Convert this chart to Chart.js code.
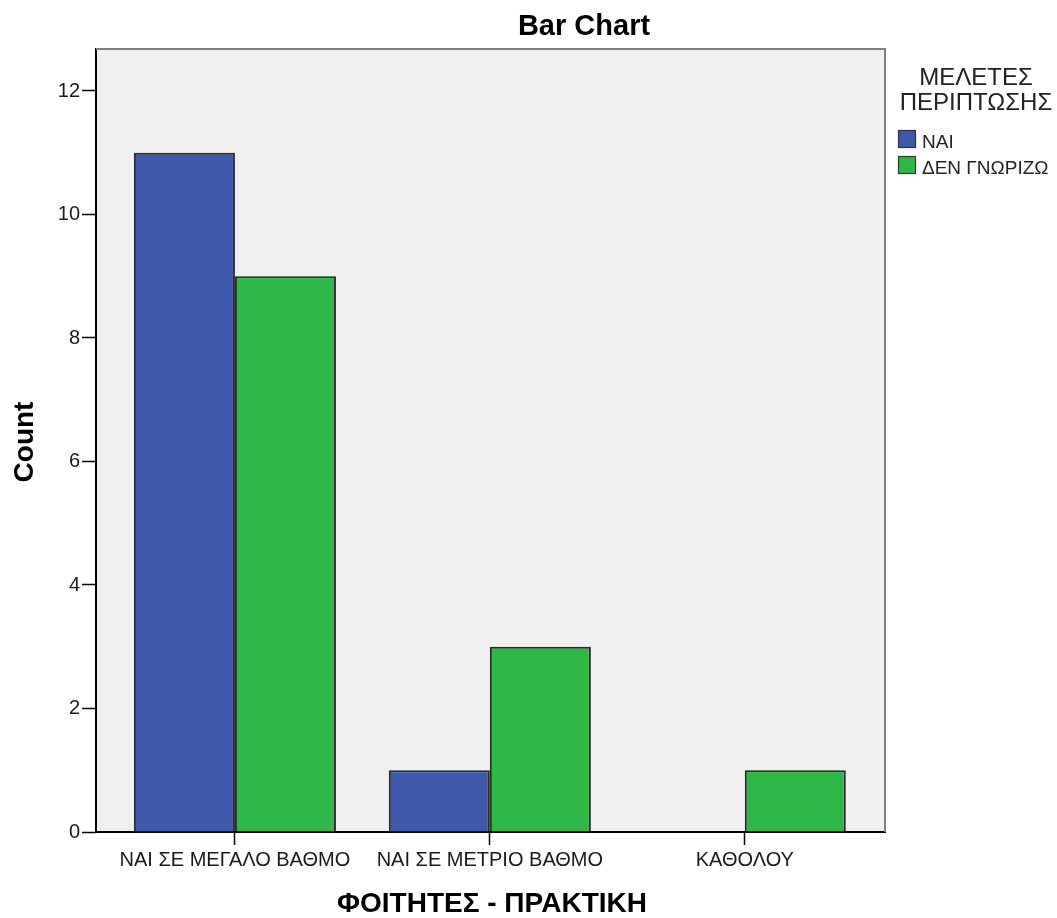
<!DOCTYPE html>
<html>
<head>
<meta charset="utf-8">
<script src="https://cdn.jsdelivr.net/npm/chart.js@4/dist/chart.umd.min.js"></script>
<style>
  html, body { margin: 0; padding: 0; background: #ffffff; }
  #wrap { width: 1057px; height: 918px; }
</style>
</head>
<body>
<div id="wrap"><canvas id="c" width="1057" height="918"></canvas></div>
<script>
const categories = ["ΝΑΙ ΣΕ ΜΕΓΑΛΟ ΒΑΘΜΟ", "ΝΑΙ ΣΕ ΜΕΤΡΙΟ ΒΑΘΜΟ", "ΚΑΘΟΛΟΥ"];
const seriesNames = ["ΝΑΙ", "ΔΕΝ ΓΝΩΡΙΖΩ"];
const valuesNai = [11, 1, 0];
const valuesDenGnorizo = [9, 3, 1];
const yTicks = [0, 2, 4, 6, 8, 10, 12];
const chartTitle = "Bar Chart";
const xTitle = "ΦΟΙΤΗΤΕΣ - ΠΡΑΚΤΙΚΗ";
const yTitle = "Count";
const legendTitle = ["ΜΕΛΕΤΕΣ", "ΠΕΡΙΠΤΩΣΗΣ"];

const colors = ["#3E58AC", "#2EB848"];
const FONT = "'Liberation Sans', Arial, sans-serif";

function toPoints(vals) { return vals.map((v, i) => ({ x: i, y: v })); }

const decor = {
  id: 'decor',
  beforeDraw(chart) {
    const { ctx, chartArea: a } = chart;
    ctx.save();
    ctx.fillStyle = '#F0F0F0';
    ctx.fillRect(a.left, a.top, a.right - a.left, a.bottom - a.top);
    ctx.restore();
  },
  afterDraw(chart) {
    const { ctx, chartArea: a } = chart;
    ctx.save();
    ctx.strokeStyle = '#808080';
    ctx.lineWidth = 2;
    ctx.beginPath();
    ctx.moveTo(a.left, a.top);
    ctx.lineTo(a.right, a.top);
    ctx.lineTo(a.right, a.bottom);
    ctx.stroke();

    ctx.fillStyle = '#000';
    ctx.textAlign = 'center';
    ctx.textBaseline = 'middle';
    ctx.font = "bold 29px " + FONT;
    ctx.fillText(chartTitle, 584, 27);
    ctx.font = "bold 28px " + FONT;
    ctx.fillText(xTitle, 492, 904);
    ctx.save();
    ctx.translate(25, 442);
    ctx.rotate(-Math.PI / 2);
    ctx.fillText(yTitle, 0, 0);
    ctx.restore();

    ctx.fillStyle = '#222';
    ctx.font = "24px " + FONT;
    legendTitle.forEach((t, i) => ctx.fillText(t, 976, 78 + i * 25));
    ctx.textAlign = 'left';
    ctx.textBaseline = 'alphabetic';
    ctx.font = "19px " + FONT;
    chart.data.datasets.forEach((ds, i) => {
      const y = 130 + i * 26;
      ctx.fillStyle = ds.backgroundColor;
      ctx.fillRect(898, y, 18, 18);
      ctx.strokeStyle = '#333';
      ctx.lineWidth = 1.2;
      ctx.strokeRect(898.5, y + 0.5, 17, 17);
      ctx.fillStyle = '#222';
      ctx.fillText(ds.label, 922, y + 18);
    });
    ctx.restore();
  }
};

new Chart(document.getElementById('c'), {
  type: 'bar',
  data: {
    datasets: [
      { label: seriesNames[0], data: toPoints(valuesNai), backgroundColor: colors[0], borderColor: '#2a2a2a', borderWidth: 2 },
      { label: seriesNames[1], data: toPoints(valuesDenGnorizo), backgroundColor: colors[1], borderColor: '#2a2a2a', borderWidth: 2 }
    ]
  },
  options: {
    responsive: false,
    animation: false,
    devicePixelRatio: 1,
    layout: { padding: { left: 0, top: 49, right: 172, bottom: 0 } },
    categoryPercentage: 0.7925,
    barPercentage: 1.0,
    plugins: { legend: { display: false }, title: { display: false }, tooltip: { enabled: false } },
    scales: {
      x: {
        type: 'linear',
        min: -0.545,
        max: 2.55,
        offset: false,
        z: 1,
        afterFit(scale) { scale.height = 86; },
        afterBuildTicks(scale) { scale.ticks = categories.map((c, i) => ({ value: i })); },
        ticks: {
          autoSkip: false, maxRotation: 0, minRotation: 0,
          padding: 3,
          color: '#1a1a1a',
          font: { family: FONT, size: 20 },
          callback: (v) => categories[v] !== undefined ? categories[v] : ''
        },
        grid: { offset: false, drawOnChartArea: false, drawTicks: true, tickLength: 13, tickColor: '#000', tickWidth: 1.5 },
        border: { display: true, color: '#000', width: 2 }
      },
      y: {
        min: 0,
        max: 12.68,
        z: 1,
        afterFit(scale) { scale.width = 96; },
        afterBuildTicks(scale) { scale.ticks = yTicks.map(v => ({ value: v })); },
        ticks: {
          includeBounds: false,
          stepSize: 2,
          padding: 2,
          color: '#1a1a1a',
          font: { family: FONT, size: 20 }
        },
        grid: { drawOnChartArea: false, drawTicks: true, tickLength: 14, tickColor: '#000', tickWidth: 1.5 },
        border: { display: true, color: '#000', width: 2 }
      }
    }
  },
  plugins: [decor]
});
</script>
</body>
</html>
